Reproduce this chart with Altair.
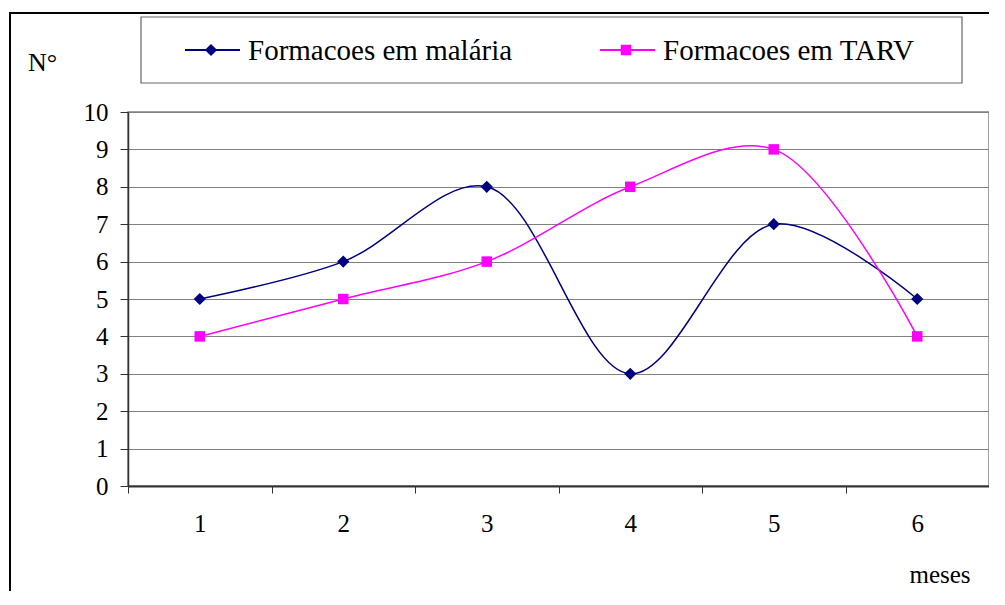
import altair as alt
import pandas as pd

months = [1, 2, 3, 4, 5, 6]
series_names = ["Formacoes em malária", "Formacoes em TARV"]
malaria = [5, 6, 8, 3, 7, 5]
tarv = [4, 5, 6, 8, 9, 4]
colors = ["#000080", "#FF00FF"]
shapes = ["diamond", "square"]
sizes = [150, 110]
y_ticks = list(range(0, 11))

rows = []
for m, v in zip(months, malaria):
    rows.append({"mes": str(m), "valor": v, "serie": series_names[0]})
for m, v in zip(months, tarv):
    rows.append({"mes": str(m), "valor": v, "serie": series_names[1]})
df = pd.DataFrame(rows)

FONT = "Liberation Serif"

xenc = alt.X(
    "mes:O",
    bandPosition=0.5,
    scale=alt.Scale(type="band", paddingInner=0, paddingOuter=0),
    axis=alt.Axis(
        title=None, labelAngle=0, tickBand="extent", tickSize=7,
        labelPadding=18, labelFontSize=25, labelFont=FONT, labelColor="black",
        domainColor="#333333", domainWidth=2, tickColor="#333333", grid=False,
    ),
)
yenc = alt.Y(
    "valor:Q",
    scale=alt.Scale(domain=[0, 10], nice=False),
    axis=alt.Axis(
        title=None, values=y_ticks, tickSize=8, labelPadding=12,
        labelFontSize=25, labelFont=FONT, labelColor="black",
        domainColor="#333333", domainWidth=1.5, tickColor="#333333",
        grid=True, gridColor="#808080", gridWidth=1,
    ),
)
cscale = alt.Scale(domain=series_names, range=colors)
sscale = alt.Scale(domain=series_names, range=shapes)
zscale = alt.Scale(domain=series_names, range=sizes)

lines = alt.Chart(df).mark_line(interpolate="catmull-rom", strokeWidth=1.5).encode(
    x=xenc, y=yenc, color=alt.Color("serie:N", scale=cscale, legend=None)
)
points = alt.Chart(df).mark_point(filled=True, opacity=1).encode(
    x=xenc, y=yenc,
    color=alt.Color("serie:N", scale=cscale, legend=None),
    shape=alt.Shape("serie:N", scale=sscale, legend=None),
    size=alt.Size("serie:N", scale=zscale, legend=None),
)

one = pd.DataFrame({"a": [0]})

outer = alt.Chart(one).mark_rect(fill=None, stroke="black", strokeWidth=2).encode(
    x=alt.value(-118), x2=alt.value(900), y=alt.value(-99), y2=alt.value(520)
)
legend_box = alt.Chart(one).mark_rect(fill="white", stroke="#666666", strokeWidth=1.2).encode(
    x=alt.value(13), x2=alt.value(834), y=alt.value(-95), y2=alt.value(-29)
)

legend_layers = []
leg_x = [57, 472]
for i, name in enumerate(series_names):
    lx = leg_x[i]
    legend_layers.append(
        alt.Chart(one).mark_rule(color=colors[i], strokeWidth=2).encode(
            x=alt.value(lx), x2=alt.value(lx + 55), y=alt.value(-62)
        )
    )
    legend_layers.append(
        alt.Chart(one).mark_point(filled=True, size=sizes[i], opacity=1, color=colors[i], shape=shapes[i]).encode(
            x=alt.value(lx + 26), y=alt.value(-62)
        )
    )
    legend_layers.append(
        alt.Chart(pd.DataFrame({"t": [name]})).mark_text(
            align="left", baseline="middle", font=FONT, fontSize=29, color="black"
        ).encode(x=alt.value(lx + 63), y=alt.value(-61), text="t:N")
    )

n_label = alt.Chart(pd.DataFrame({"t": ["N°"]})).mark_text(
    align="left", baseline="alphabetic", font=FONT, fontSize=26, color="black"
).encode(x=alt.value(-100), y=alt.value(-41), text="t:N")
meses_label = alt.Chart(pd.DataFrame({"t": ["meses"]})).mark_text(
    align="center", baseline="alphabetic", font=FONT, fontSize=25, color="black"
).encode(x=alt.value(812), y=alt.value(471), text="t:N")

chart = alt.layer(
    outer, legend_box, *legend_layers, n_label, meses_label, lines, points
).properties(
    width=861, height=374,
    background="white",
    padding={"left": 120, "top": 104, "right": 0, "bottom": 105},
    autosize=alt.AutoSizeParams(type="none"),
).configure_view(stroke="#808080", strokeWidth=1.5)

chart.save("out.html", embed_options={"renderer": "svg", "actions": False})
